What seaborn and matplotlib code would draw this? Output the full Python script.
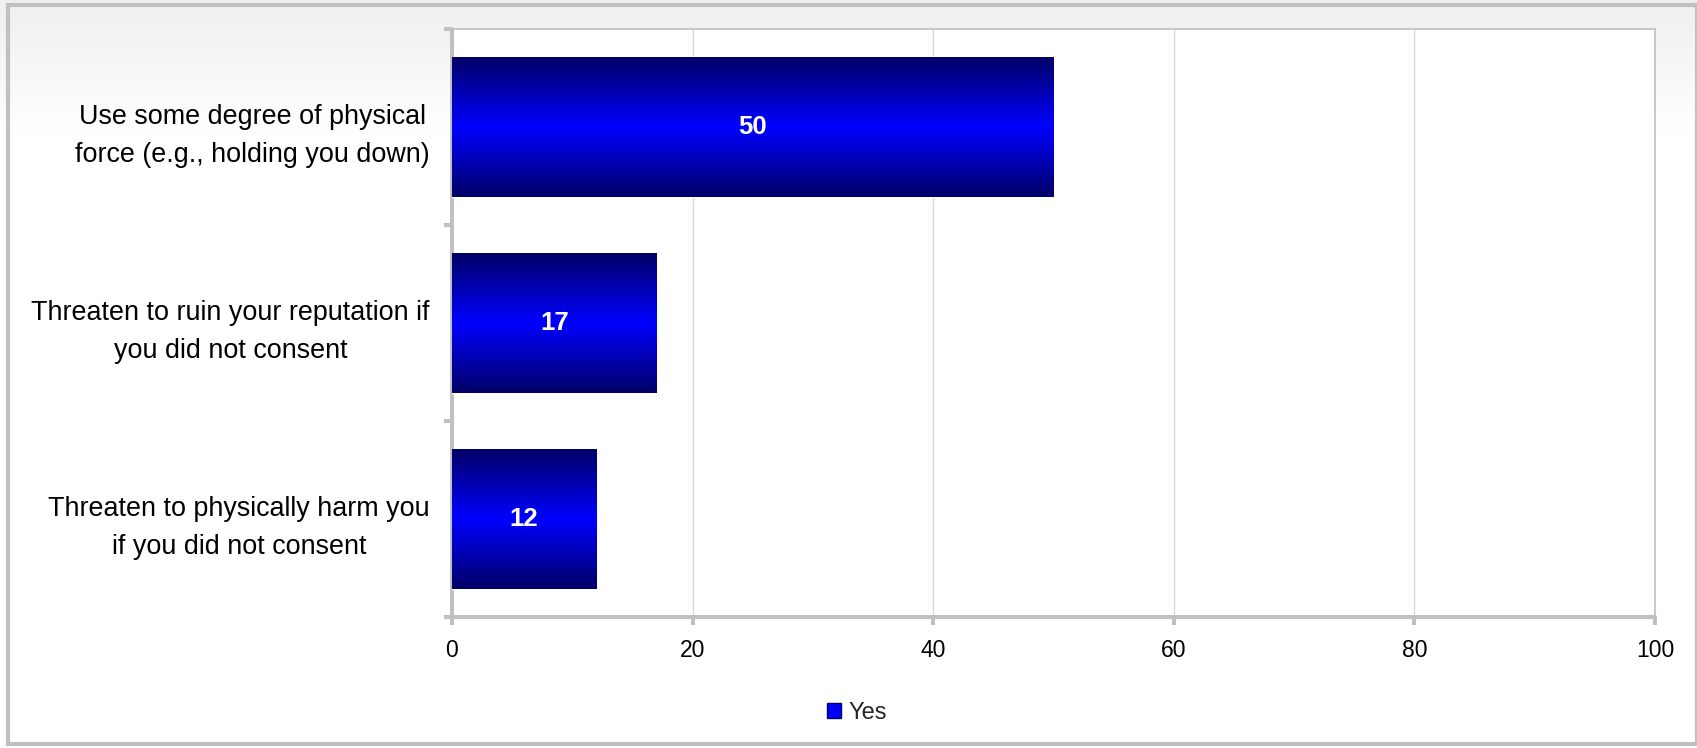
import numpy as np
import pandas as pd
import matplotlib
matplotlib.use("Agg")
import matplotlib.pyplot as plt
from matplotlib.colors import LinearSegmentedColormap
from matplotlib.patches import Rectangle, Patch
import seaborn as sns

# data
categories = [
    "Use some degree of physical\nforce (e.g., holding you down)",
    "Threaten to ruin your reputation if\nyou did not consent",
    "Threaten to physically harm you\nif you did not consent",
]
values = [50, 17, 12]
series_name = "Yes"
x_ticks = [0, 20, 40, 60, 80, 100]

df = pd.DataFrame({"category": categories, "value": values})

sns.set_theme(style="white")
plt.rcParams["font.family"] = ["Liberation Sans", "DejaVu Sans"]

axis_grey = "#c0c0c0"
grid_grey = "#d9d9d9"

fig = plt.figure(figsize=(16.97, 7.48), dpi=100)
fig.patch.set_facecolor("white")

# light grey gradient at the top of the figure and the outer frame
bg = fig.add_axes([0, 0, 1, 1], zorder=-10)
grad = np.linspace(0, 1, 256).reshape(-1, 1)
bg.imshow(grad, extent=[0, 1, 0.82, 1.0], aspect="auto",
          cmap=LinearSegmentedColormap.from_list("bg", ["#ffffff", "#efefef"]),
          origin="lower")
bg.set_xlim(0, 1)
bg.set_ylim(0, 1)
bg.axis("off")
fig.patches.append(Rectangle((8 / 1697, 4 / 748), 1 - 8 / 1697, 1 - 9 / 748,
                             transform=fig.transFigure, fill=False,
                             edgecolor=axis_grey, linewidth=3, zorder=-5))

ax = fig.add_axes([452 / 1697, 1 - 617 / 748, (1655 - 452) / 1697, (617 - 29) / 748])
ax.set_facecolor("white")

sns.barplot(data=df, x="value", y="category", orient="h", color="#0000ff",
            width=0.714, ax=ax, zorder=3)

# vertical gradient on each bar: navy edges, bright blue middle
bar_cmap = LinearSegmentedColormap.from_list("bar", ["#000066", "#0000ff", "#000066"])
for patch in ax.patches:
    bb = patch.get_bbox()
    im = ax.imshow(np.linspace(0, 1, 256).reshape(-1, 1), cmap=bar_cmap,
                   extent=[bb.x0, bb.x1, bb.y1, bb.y0], aspect="auto",
                   zorder=4, interpolation="bilinear")
    im.set_clip_path(patch)
ax.set_xlim(0, 100)
ax.set_ylim(2.5, -0.5)

for cont in ax.containers:
    labels = ax.bar_label(cont, label_type="center", color="white",
                          fontweight="bold", fontsize=18.5)
    for t in labels:
        t.set_zorder(6)

# axes styling
ax.set_xticks(x_ticks)
ax.set_xticklabels([str(v) for v in x_ticks], fontsize=16.5, color="black")
ax.set_yticks([-0.5, 0.5, 1.5, 2.5])
ax.set_yticklabels([])
ax.set_yticks(range(len(categories)), minor=True)
ax.set_yticklabels(categories, minor=True, fontsize=19.4, color="black",
                   linespacing=1.6)
ax.tick_params(axis="y", which="minor", length=0, pad=16)
ax.tick_params(axis="y", which="major", length=6, width=2.9, color=axis_grey,
               direction="out", left=True)
ax.tick_params(axis="x", length=6, width=2.9, color=axis_grey, direction="out",
               bottom=True, pad=10)
for lbl in ax.get_yticklabels(minor=True):
    lbl.set_horizontalalignment("right")
    lbl.set_multialignment("center")

ax.xaxis.grid(True, color=grid_grey, linewidth=1)
ax.set_axisbelow(True)
for side in ["left", "bottom"]:
    ax.spines[side].set_color(axis_grey)
    ax.spines[side].set_linewidth(2.9)
    ax.spines[side].set_capstyle("round")
for side in ["top", "right"]:
    ax.spines[side].set_visible(True)
    ax.spines[side].set_color(axis_grey)
    ax.spines[side].set_linewidth(1.2)
ax.set_xlabel("")
ax.set_ylabel("")

handle = Patch(facecolor="#0000ff", edgecolor="#000066", label=series_name)
fig.legend(handles=[handle], loc="center", bbox_to_anchor=(857 / 1697, 1 - 713 / 748),
           frameon=False, fontsize=17, handlelength=0.6, handleheight=0.6,
           handletextpad=0.35)

fig.savefig("out.png", dpi=100)
